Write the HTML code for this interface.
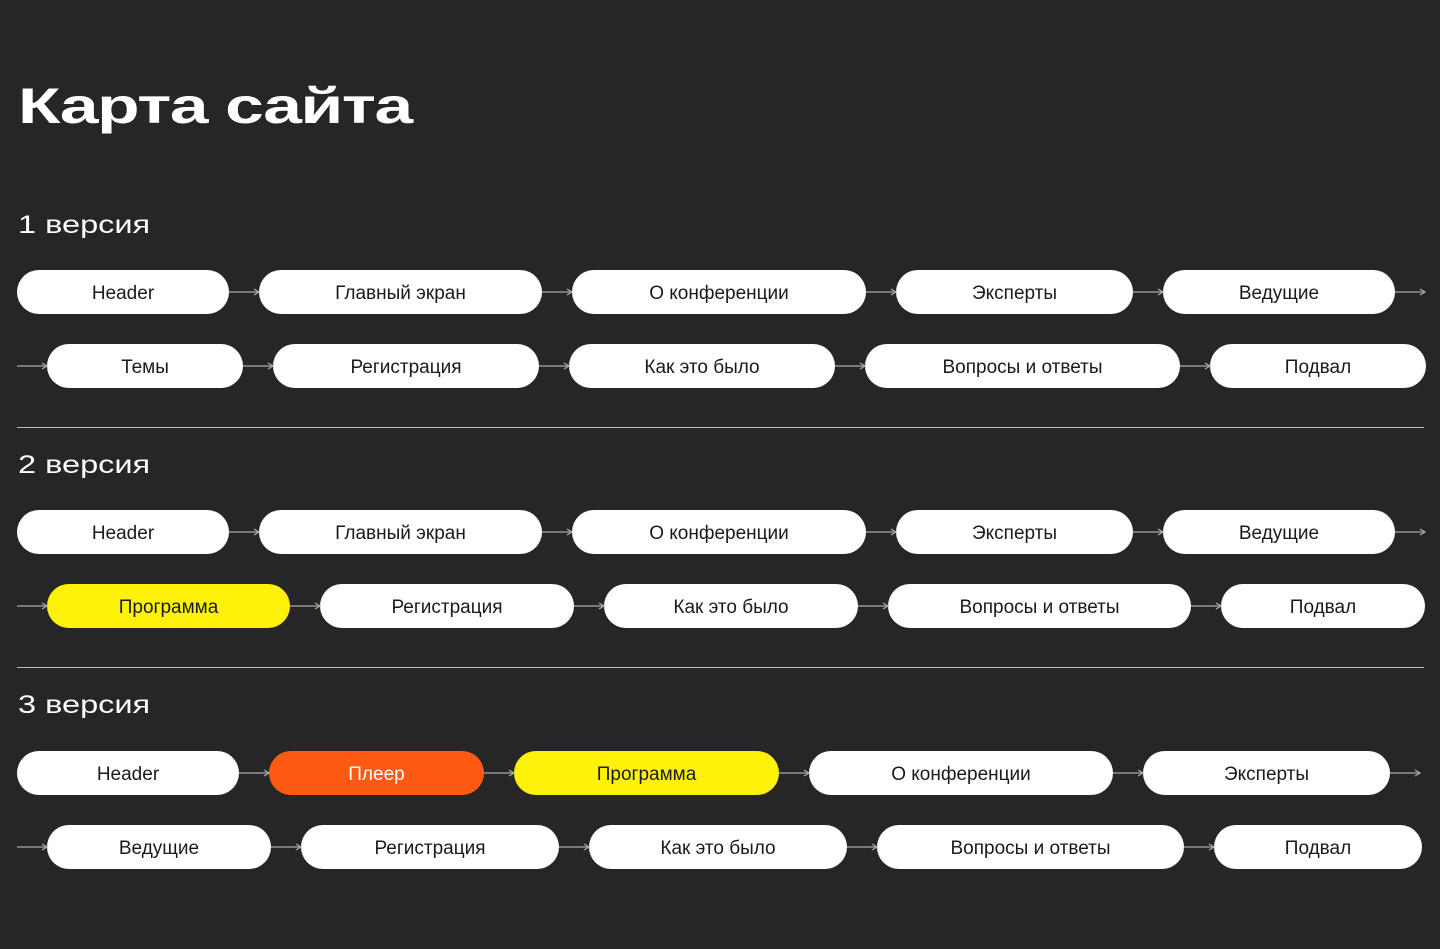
<!DOCTYPE html>
<html><head><meta charset="utf-8"><style>
body{margin:0;width:1440px;height:949px;background:#262626;position:relative;overflow:hidden;font-family:"Liberation Sans",sans-serif}
.p{position:absolute;height:44px;box-sizing:border-box;padding-top:3px;border-radius:22px;background:#fff;color:#1a1a1a;font-size:19px;display:flex;align-items:center;justify-content:center}
.y{background:#fff20a}.o{background:#ff5a14;color:#fff}
h1{position:absolute;left:18px;top:77px;margin:0;color:#fff;font-size:50px;font-weight:900;transform:scaleX(1.39);transform-origin:left;letter-spacing:-1px}
.v{position:absolute;left:18px;color:#fff;font-size:25px;transform:scaleX(1.3);transform-origin:left}
.l{position:absolute;left:17px;width:1407px;height:1px;background:#bbb}
svg{position:absolute;left:0;top:0}
</style></head><body>
<h1>Карта сайта</h1>
<div class="v" style="top:211px">1 версия</div>
<div class="v" style="top:451px">2 версия</div>
<div class="v" style="top:691px">3 версия</div>
<div class="l" style="top:427px"></div>
<div class="l" style="top:667px"></div>

<div class="p" style="top:270px;left:17px;width:212px">Header</div>
<div class="p" style="top:270px;left:259px;width:283px">Главный экран</div>
<div class="p" style="top:270px;left:572px;width:294px">О конференции</div>
<div class="p" style="top:270px;left:896px;width:237px">Эксперты</div>
<div class="p" style="top:270px;left:1163px;width:232px">Ведущие</div>

<div class="p" style="top:344px;left:47px;width:196px">Темы</div>
<div class="p" style="top:344px;left:273px;width:266px">Регистрация</div>
<div class="p" style="top:344px;left:569px;width:266px">Как это было</div>
<div class="p" style="top:344px;left:865px;width:315px">Вопросы и ответы</div>
<div class="p" style="top:344px;left:1210px;width:216px">Подвал</div>

<div class="p" style="top:510px;left:17px;width:212px">Header</div>
<div class="p" style="top:510px;left:259px;width:283px">Главный экран</div>
<div class="p" style="top:510px;left:572px;width:294px">О конференции</div>
<div class="p" style="top:510px;left:896px;width:237px">Эксперты</div>
<div class="p" style="top:510px;left:1163px;width:232px">Ведущие</div>

<div class="p y" style="top:584px;left:47px;width:243px">Программа</div>
<div class="p" style="top:584px;left:320px;width:254px">Регистрация</div>
<div class="p" style="top:584px;left:604px;width:254px">Как это было</div>
<div class="p" style="top:584px;left:888px;width:303px">Вопросы и ответы</div>
<div class="p" style="top:584px;left:1221px;width:204px">Подвал</div>

<div class="p" style="top:751px;left:17px;width:222px">Header</div>
<div class="p o" style="top:751px;left:269px;width:215px">Плеер</div>
<div class="p y" style="top:751px;left:514px;width:265px">Программа</div>
<div class="p" style="top:751px;left:809px;width:304px">О конференции</div>
<div class="p" style="top:751px;left:1143px;width:247px">Эксперты</div>

<div class="p" style="top:825px;left:47px;width:224px">Ведущие</div>
<div class="p" style="top:825px;left:301px;width:258px">Регистрация</div>
<div class="p" style="top:825px;left:589px;width:258px">Как это было</div>
<div class="p" style="top:825px;left:877px;width:307px">Вопросы и ответы</div>
<div class="p" style="top:825px;left:1214px;width:208px">Подвал</div>

<svg width="1440" height="949" stroke="#aaa" stroke-width="1.3" fill="none">
<defs><marker id="a" markerWidth="8" markerHeight="8" refX="6" refY="4" orient="auto" markerUnits="userSpaceOnUse"><path d="M1,1 L6,4 L1,7" stroke="#aaa" fill="none"/></marker></defs>
<g marker-end="url(#a)">
<path d="M229 292H259"/><path d="M542 292H572"/><path d="M866 292H896"/><path d="M1133 292H1163"/><path d="M1395 292H1425"/>
<path d="M17 366H47"/><path d="M243 366H273"/><path d="M539 366H569"/><path d="M835 366H865"/><path d="M1180 366H1210"/>
<path d="M229 532H259"/><path d="M542 532H572"/><path d="M866 532H896"/><path d="M1133 532H1163"/><path d="M1395 532H1425"/>
<path d="M17 606H47"/><path d="M290 606H320"/><path d="M574 606H604"/><path d="M858 606H888"/><path d="M1191 606H1221"/>
<path d="M239 773H269"/><path d="M484 773H514"/><path d="M779 773H809"/><path d="M1113 773H1143"/><path d="M1390 773H1420"/>
<path d="M17 847H47"/><path d="M271 847H301"/><path d="M559 847H589"/><path d="M847 847H877"/><path d="M1184 847H1214"/>
</g></svg>
</body></html>
